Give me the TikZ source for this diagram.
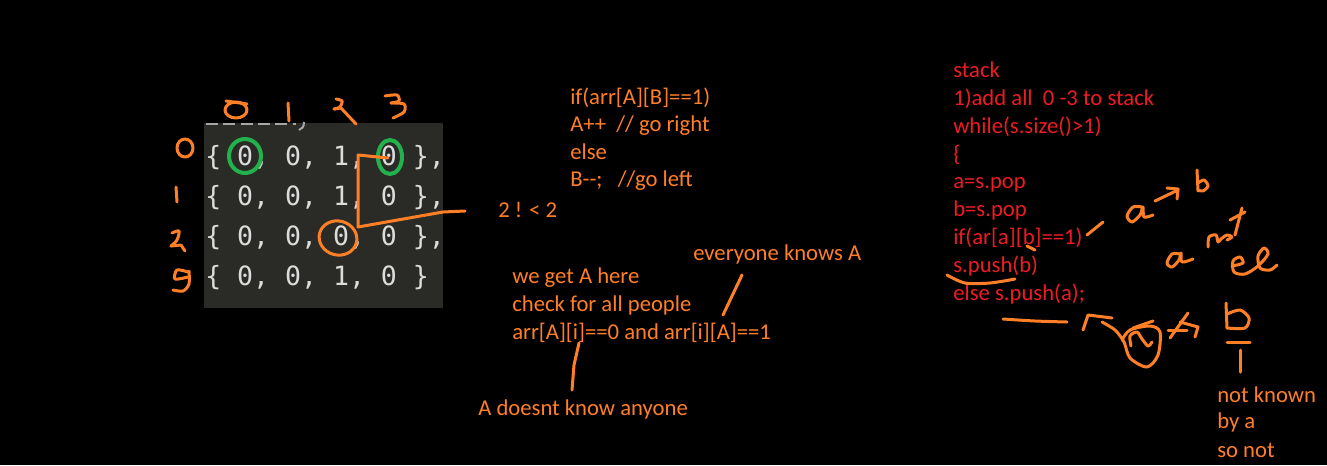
\documentclass[tikz,border=0pt]{standalone}
\usepackage{fontspec}
\setmainfont{Carlito}
\newfontfamily\codefont{DejaVu Sans Mono}
\definecolor{pen}{HTML}{FF7F27}
\definecolor{redtxt}{HTML}{ED1C24}
\definecolor{grn}{HTML}{22B14C}
\definecolor{panel}{HTML}{2A2A26}
\definecolor{codegray}{HTML}{DCDCDC}
\begin{document}
\begin{tikzpicture}[x=0.75pt,y=-0.75pt,
  otext/.style={text=pen, font=\fontsize{17}{20}\selectfont, anchor=base west, inner sep=0pt},
  rtext/.style={otext, text=redtxt},
  mtext/.style={text=codegray, font=\codefont\fontsize{19.9}{24}\selectfont, anchor=base west, inner sep=0pt},
  stroke/.style={draw=pen, line width=2.25pt, line cap=round, line join=round},
  gring/.style={draw=grn, line width=3pt}]
\fill[black] (0,0) rectangle (1327,465);
\useasboundingbox (0,0) rectangle (1327,465);

% code panel
\fill[panel] (204,123) rectangle (443,308);
\draw[gray!70, line width=1.5pt, dash pattern=on 9pt off 4pt] (206,124) -- (296,124);
\draw[gray!70, line width=1.5pt] (304,122) .. controls (304,127) and (302,129) .. (299,130);
\node[mtext] (r0) at (205,165) {\{ 0, 0, 1, 0 \},};
\node[mtext] (r1) at (205,205) {\{ 0, 0, 1, 0 \},};
\node[mtext] (r2) at (205,245) {\{ 0, 0, 0, 0 \},};
\node[mtext] (r3) at (205,285) {\{ 0, 0, 1, 0 \}};

% green rings
\draw[gring] (245,156) ellipse [x radius=16, y radius=17];
\draw[gring] (390,157) ellipse [x radius=12, y radius=17];

% orange marks on the matrix
\draw[stroke] (388,158) -- (358,155) -- (358,227) -- (443,212) -- (465,211);
\draw[stroke, rotate around={-15:(338,238)}] (338,238) ellipse [x radius=19, y radius=17];

% column labels (handwritten)
\draw[stroke] (236,110) ellipse [x radius=11, y radius=8];
\draw[stroke] (226,101) -- (247,104);
\draw[stroke] (288,103) -- (289,121);
\draw[stroke] plot[smooth] coordinates {(336,99) (342,101) (340,107) (334,109)};
\draw[stroke] (334,109) -- (341,108) -- (356,124);
\draw[stroke] plot[smooth] coordinates {(385,96) (397,95) (399,101) (391,103)};
\draw[stroke] plot[smooth] coordinates {(391,103) (404,104) (404,112) (393,118)};

% row labels (handwritten)
\draw[stroke] (185,148) ellipse [x radius=8, y radius=9];
\draw[stroke] (176,187) -- (177,202);
\draw[stroke] plot[smooth] coordinates {(172,233) (179,231) (177,240) (171,246)};
\draw[stroke] (171,246) -- (181,245) -- (185,251);
\draw[stroke] plot[smooth] coordinates {(188,272) (177,270) (175,279) (188,277)};
\draw[stroke] plot[smooth] coordinates {(189,271) (189,284) (183,291) (173,290)};

% orange texts
\node[otext] (c1) at (570,104) {if(arr[A][B]==1)};
\node[otext] (c2) at (570,131) {A++\ \ // go right};
\node[otext] (c3) at (570,159) {else};
\node[otext] (c4) at (570,186) {B-{}-;\ \ \ //go left};
\node[otext] (cmp) at (498,217) {2 ! < 2};
\node[otext] (every) at (693,260) {everyone knows A};
\node[otext] (w1) at (512,283) {we get A here};
\node[otext] (w2) at (512,311) {check for all people};
\node[otext] (w3) at (512,339) {arr[A][i]==0 and arr[i][A]==1};
\node[otext] (adk) at (478,415) {A doesnt know anyone};
\draw[stroke] (742,275) -- (723,315);
\draw[stroke] (579,343) -- (574,365) -- (572,390);

% red stack texts
\node[rtext] (s1) at (953,77) {stack};
\node[rtext] (s2) at (953,105) {1)add all\ \ 0 -3 to stack};
\node[rtext] (s3) at (953,133) {while(s.size()>1)};
\node[rtext] (s4) at (953,161) {\{};
\node[rtext] (s5) at (953,188) {a=s.pop};
\node[rtext] (s6) at (953,216) {b=s.pop};
\node[rtext] (s7) at (953,244) {if(ar[a][b]==1)};
\node[rtext] (s8) at (953,272) {s.push(b)};
\node[rtext] (s9) at (953,300) {else s.push(a);};

% orange scribbles on the right
\draw[stroke] (1027,246) -- (1035,250);
\draw[stroke] (1087,235) -- (1103,222);
\draw[stroke] plot[smooth] coordinates {(947,275) (965,283) (990,283) (1015,279)};
\draw[stroke] plot[smooth] coordinates {(1003,319) (1035,321) (1067,322)};
% a -> b
\draw[stroke] plot[smooth] coordinates {(1142,207) (1133,207) (1127,216) (1132,222) (1140,215) (1143,207) (1144,217) (1153,215)};
\draw[stroke] (1155,201) -- (1178,190);
\draw[stroke] (1167,188) -- (1178,189) -- (1177,199);
\draw[stroke] (1197,170) -- (1198,191);
\draw[stroke] plot[smooth] coordinates {(1198,183) (1204,180) (1208,186) (1203,191) (1198,190)};
% a not el
\draw[stroke] plot[smooth] coordinates {(1180,254) (1172,254) (1167,263) (1172,267) (1179,260) (1181,253) (1182,262) (1193,259)};
\draw[stroke] plot[smooth] coordinates {(1208,247) (1209,237) (1216,235) (1218,242) (1221,239) (1227,235) (1232,237) (1227,240)};
\draw[stroke] (1242,208) -- (1235,235);
\draw[stroke] (1230,220) -- (1245,212);
\draw[stroke] plot[smooth] coordinates {(1232,266) (1243,263) (1240,257) (1233,261) (1234,272) (1245,274) (1258,266) (1268,254) (1264,248) (1258,256) (1260,268) (1270,270) (1277,265)};
% (a) crossed A b
\draw[stroke] (1083,330) -- (1088,315) -- (1112,318);
\draw[stroke] plot[smooth] coordinates {(1102,322) (1115,330) (1124,342) (1130,358) (1147,367) (1158,355) (1160,332) (1150,326) (1130,330) (1122,340)};
\draw[stroke] (1133,328) -- (1153,321);
\draw[stroke] plot[smooth] coordinates {(1131,346) (1130,336) (1137,332) (1142,339) (1148,346) (1152,342)};
\draw[stroke] (1170,338) -- (1188,313);
\draw[stroke] (1180,322) -- (1198,327) -- (1195,337);
\draw[stroke] (1168,330) -- (1187,330);
\draw[stroke] (1226,303) -- (1227,328);
\draw[stroke] plot[smooth] coordinates {(1227,314) (1240,310) (1249,318) (1245,328) (1227,328)};
\draw[stroke] (1227,342) -- (1250,342);
\draw[stroke] (1240,350) -- (1240,372);

\node[otext] (nk1) at (1217,402) {not known};
\node[otext] (nk2) at (1217,428) {by a};
\node[otext] (nk3) at (1217,457) {so not};
\end{tikzpicture}
\end{document}
